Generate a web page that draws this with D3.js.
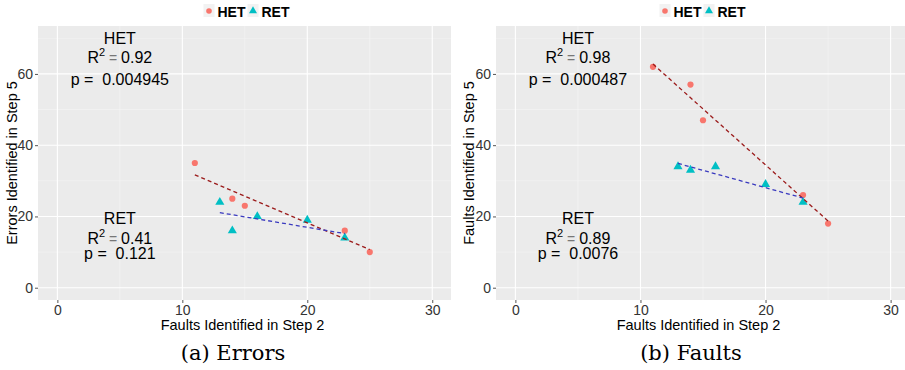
<!DOCTYPE html>
<html>
<head>
<meta charset="utf-8">
<script src="https://cdn.jsdelivr.net/npm/d3@7"></script>
<style>
	body { margin: 0; background: #fff; }
	svg { display: block; font-family: "Liberation Sans", Arial, sans-serif; }
</style>
</head>
<body>
<div id="chart"></div>
<script>
/*
Data
*/
const seriesNames = ["HET", "RET"];
const step2Het = [11, 14, 15, 23, 25];
const step2Ret = [13, 14, 16, 20, 23];
const errorsHet = [35, 25, 23, 16, 10];
const errorsRet = [24, 16, 20, 19, 14];
const faultsHet = [62, 57, 47, 26, 18];
const faultsRet = [34, 33, 34, 29, 24];
const xTicks = [0, 10, 20, 30];
const yTicks = [0, 20, 40, 60];
const errorsR2 = ["0.92", "0.41"];
const errorsP = ["0.004945", "0.121"];
const faultsR2 = ["0.98", "0.89"];
const faultsP = ["0.000487", "0.0076"];

const width = 905;
const height = 370;
const colors = { HET: "#F8766D", RET: "#00BFC4" };
const lineColors = { HET: "#9B1B1B", RET: "#3A3ABF" };

const svg = d3.select("#chart")
	.append("svg")
	.attr("width", width)
	.attr("height", height);

/*
Panel layout (pixels)
*/
const panels = [
	{
		left: 38, right: 451, xMax: 31.5, yTitle: "Errors Identified in Step 5",
		caption: "(a) Errors", captionX: 233, titleX: 11.5,
		het: errorsHet, ret: errorsRet, r2: errorsR2, p: errorsP
	},
	{
		left: 496, right: 905, xMax: 31.15, yTitle: "Faults Identified in Step 5",
		caption: "(b) Faults", captionX: 691, titleX: 469,
		het: faultsHet, ret: faultsRet, r2: faultsR2, p: faultsP
	}
];
const plotTop = 26, plotBottom = 300;

// line baselines for the text blocks, in pixels
const annoRows = [[43.5, 63, 84.5], [223.5, 243.5, 258.5]];

function fit(xs, ys) {
	var mx = d3.mean(xs), my = d3.mean(ys);
	var sxy = d3.sum(xs, (v, i) => (v - mx) * (ys[i] - my));
	var sxx = d3.sum(xs, (v) => (v - mx) * (v - mx));
	var b = sxy / sxx;
	return (v) => my + b * (v - mx);
}

panels.forEach((pn, k) => {
	var x = d3.scaleLinear().domain([-1.55, pn.xMax]).range([pn.left, pn.right]);
	var y = d3.scaleLinear().domain([-3.45, 73.45]).range([plotBottom, plotTop]);
	var g = svg.append("g");

	g.append("rect")
		.attr("x", pn.left).attr("y", plotTop)
		.attr("width", pn.right - pn.left).attr("height", plotBottom - plotTop)
		.attr("fill", "#EBEBEB");

	// minor grid
	g.selectAll(".vminor")
		.data([5, 15, 25])
		.enter().append("line")
		.attr("x1", (d) => x(d)).attr("x2", (d) => x(d))
		.attr("y1", plotTop).attr("y2", plotBottom)
		.attr("stroke", "#F5F5F5").attr("stroke-width", 0.6);
	g.selectAll(".hminor")
		.data([10, 30, 50, 70])
		.enter().append("line")
		.attr("y1", (d) => y(d)).attr("y2", (d) => y(d))
		.attr("x1", pn.left).attr("x2", pn.right)
		.attr("stroke", "#F5F5F5").attr("stroke-width", 0.6);
	// major grid
	g.selectAll(".vmajor")
		.data(xTicks)
		.enter().append("line")
		.attr("x1", (d) => x(d)).attr("x2", (d) => x(d))
		.attr("y1", plotTop).attr("y2", plotBottom)
		.attr("stroke", "#fff").attr("stroke-width", 1.1);
	g.selectAll(".hmajor")
		.data(yTicks)
		.enter().append("line")
		.attr("y1", (d) => y(d)).attr("y2", (d) => y(d))
		.attr("x1", pn.left).attr("x2", pn.right)
		.attr("stroke", "#fff").attr("stroke-width", 1.1);

	// axes
	var xAxis = g.append("g")
		.attr("transform", `translate(0,${plotBottom})`)
		.call(d3.axisBottom(x).tickValues(xTicks).tickSize(3).tickPadding(2));
	var yAxis = g.append("g")
		.attr("transform", `translate(${pn.left},0)`)
		.call(d3.axisLeft(y).tickValues(yTicks).tickSize(3).tickPadding(2));
	[xAxis, yAxis].forEach((a) => {
		a.select(".domain").remove();
		a.selectAll("line").attr("stroke", "#555");
		a.selectAll("text")
			.attr("fill", "#333")
			.style("font-size", "14px")
			.style("font-family", "Liberation Sans, Arial, sans-serif");
	});

	g.append("text")
		.attr("x", (pn.left + pn.right) / 2 - 2)
		.attr("y", 330)
		.attr("text-anchor", "middle")
		.style("font-size", "14.5px")
		.text("Faults Identified in Step 2");
	g.append("text")
		.attr("transform", `translate(${pn.titleX},${(plotTop + plotBottom) / 2}) rotate(-90)`)
		.attr("text-anchor", "middle")
		.attr("dy", "0.35em")
		.style("font-size", "14.5px")
		.text(pn.yTitle);

	// points
	var het = step2Het.map((v, i) => [v, pn.het[i]]);
	var ret = step2Ret.map((v, i) => [v, pn.ret[i]]);
	g.selectAll(".het")
		.data(het)
		.enter().append("circle")
		.attr("cx", (d) => x(d[0])).attr("cy", (d) => y(d[1]))
		.attr("r", 3.1)
		.attr("fill", colors.HET);
	g.selectAll(".ret")
		.data(ret)
		.enter().append("path")
		.attr("d", d3.symbol().type(d3.symbolTriangle).size(36))
		.attr("transform", (d) => `translate(${x(d[0])},${y(d[1])})`)
		.attr("fill", colors.RET);

	// regression lines
	[["HET", step2Het, pn.het], ["RET", step2Ret, pn.ret]].forEach(([name, xs, ys]) => {
		var f = fit(xs, ys);
		var ext = d3.extent(xs);
		g.append("line")
			.attr("x1", x(ext[0])).attr("y1", y(f(ext[0])))
			.attr("x2", x(ext[1])).attr("y2", y(f(ext[1])))
			.attr("stroke", lineColors[name])
			.attr("stroke-width", 1.3)
			.attr("stroke-dasharray", "4,3");
	});

	// stats text
	seriesNames.forEach((name, j) => {
		var cx = x(5);
		var rows = annoRows[j];
		g.append("text")
			.attr("x", cx).attr("y", rows[0])
			.attr("text-anchor", "middle")
			.style("font-size", "16px")
			.text(name);
		var t = g.append("text")
			.attr("x", cx).attr("y", rows[1])
			.attr("text-anchor", "middle")
			.style("font-size", "16px");
		t.append("tspan").text("R");
		t.append("tspan").attr("dy", -7).style("font-size", "11px").text("2");
		t.append("tspan").attr("dy", 7).attr("fill", "#777").style("font-size", "14px").text(" = ");
		t.append("tspan").text(pn.r2[j]);
		g.append("text")
			.attr("x", cx).attr("y", rows[2])
			.attr("text-anchor", "middle")
			.style("font-size", "16px")
			.style("white-space", "pre")
			.attr("xml:space", "preserve")
			.text(`p =  ${pn.p[j]}`);
	});

	// legend
	var lx = (pn.left + pn.right) / 2 - 41;
	var leg = g.append("g").attr("transform", `translate(${lx},0)`);
	seriesNames.forEach((name, j) => {
		var ox = j * 44;
		leg.append("rect")
			.attr("x", ox).attr("y", 4)
			.attr("width", 11).attr("height", 13)
			.attr("fill", "#F2F2F2");
		if (name == "HET") {
			leg.append("circle")
				.attr("cx", ox + 5.5).attr("cy", 11)
				.attr("r", 2.8)
				.attr("fill", colors.HET);
		} else {
			leg.append("path")
				.attr("d", d3.symbol().type(d3.symbolTriangle).size(28))
				.attr("transform", `translate(${ox + 5.5},${11})`)
				.attr("fill", colors.RET);
		}
		leg.append("text")
			.attr("x", ox + 14).attr("y", 17)
			.style("font-size", "14px")
			.style("font-weight", "bold")
			.text(name);
	});

	// caption
	svg.append("text")
		.attr("x", pn.captionX).attr("y", 360)
		.attr("text-anchor", "middle")
		.style("font-family", "DejaVu Serif, serif")
		.style("font-size", "21px")
		.text(pn.caption);
});
</script>
</body>
</html>
